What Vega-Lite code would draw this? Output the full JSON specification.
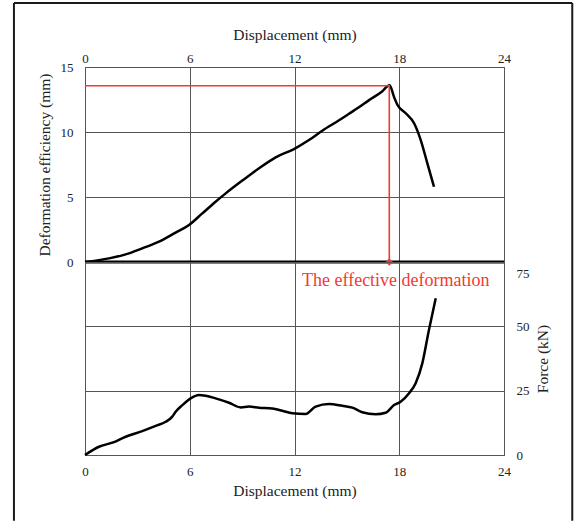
{
  "$schema": "https://vega.github.io/schema/vega-lite/v6.json",
  "padding": {"left": 12, "top": 1, "right": 0, "bottom": 0},
  "background": "white",
  "spacing": 0,
  "bounds": "flush",
  "datasets": {
    "def": [
      {"d": 0, "e": 0}, {"d": 1.37, "e": 0.28}, {"d": 2.33, "e": 0.59}, {"d": 3.28, "e": 1.05},
      {"d": 4.24, "e": 1.56}, {"d": 5.19, "e": 2.26}, {"d": 5.96, "e": 2.85}, {"d": 6.72, "e": 3.74},
      {"d": 7.48, "e": 4.64}, {"d": 8.06, "e": 5.28}, {"d": 9.01, "e": 6.26}, {"d": 9.97, "e": 7.21},
      {"d": 10.92, "e": 8.05}, {"d": 11.97, "e": 8.69}, {"d": 12.83, "e": 9.38}, {"d": 13.59, "e": 10.1},
      {"d": 14.55, "e": 10.9}, {"d": 15.12, "e": 11.4}, {"d": 15.69, "e": 11.9}, {"d": 16.27, "e": 12.45},
      {"d": 17.0, "e": 13.1}, {"d": 17.45, "e": 13.6}, {"d": 17.7, "e": 12.7}, {"d": 17.9, "e": 12.08},
      {"d": 18.37, "e": 11.44}, {"d": 18.85, "e": 10.67}, {"d": 19.23, "e": 9.38}, {"d": 19.61, "e": 7.59},
      {"d": 19.99, "e": 5.79}
    ],
    "red": [
      {"i": 1, "d": 0, "e": 13.56}, {"i": 2, "d": 17.43, "e": 13.56}, {"i": 3, "d": 17.43, "e": 0}
    ],
    "marker": [{"d": 17.43, "e": 0}],
    "force": [
      {"d": 0, "f": 0}, {"d": 0.8, "f": 3.2}, {"d": 1.57, "f": 4.8}, {"d": 2.33, "f": 7.1},
      {"d": 3.28, "f": 9.3}, {"d": 4.05, "f": 11.3}, {"d": 4.62, "f": 12.9}, {"d": 5.0, "f": 14.9},
      {"d": 5.19, "f": 16.8}, {"d": 5.58, "f": 19.4}, {"d": 6.05, "f": 22.0}, {"d": 6.53, "f": 23.3},
      {"d": 6.91, "f": 23.0}, {"d": 7.48, "f": 22.0}, {"d": 8.25, "f": 20.3}, {"d": 8.92, "f": 18.5},
      {"d": 9.39, "f": 18.8}, {"d": 9.97, "f": 18.4}, {"d": 10.73, "f": 18.1}, {"d": 11.3, "f": 17.2},
      {"d": 11.88, "f": 16.2}, {"d": 12.64, "f": 15.9}, {"d": 13.21, "f": 18.8}, {"d": 13.98, "f": 19.8},
      {"d": 14.74, "f": 19.1}, {"d": 15.31, "f": 18.4}, {"d": 15.88, "f": 16.6}, {"d": 16.65, "f": 15.8},
      {"d": 17.22, "f": 16.4}, {"d": 17.7, "f": 19.4}, {"d": 18.08, "f": 20.7}, {"d": 18.56, "f": 24.0},
      {"d": 18.94, "f": 27.9}, {"d": 19.32, "f": 35.6}, {"d": 19.7, "f": 48.6}, {"d": 20.09, "f": 60.9}
    ],
    "note": [{"label": "The effective deformation", "d": 12.43, "f": 67.6}],
    "frameSides": [
      {"x0": -4.07, "y0": 19.92, "y1": -19.9},
      {"x0": 27.91, "y0": 19.92, "y1": -19.9}
    ],
    "frameTop": [{"x0": -4.07, "x1": 27.91, "y0": 19.92}]
  },
  "vconcat": [
    {
      "width": 419,
      "height": 195,
      "layer": [
        {
          "data": {"name": "def"},
          "mark": {"type": "line", "color": "black", "strokeWidth": 2.5, "interpolate": "monotone"},
          "encoding": {
            "x": {"field": "d", "type": "quantitative", "scale": {"domain": [0, 24], "nice": false, "zero": false}, "axis": {"orient": "top", "values": [0, 6, 12, 18, 24], "title": "Displacement (mm)", "labelPadding": 2, "titlePadding": 10, "grid": true, "labelFlush": false}},
            "y": {"field": "e", "type": "quantitative", "scale": {"domain": [0, 15], "nice": false}, "axis": {"values": [0, 5, 10, 15], "title": "Deformation efficiency (mm)", "labelPadding": 12, "titlePadding": 8, "grid": true, "labelFlush": false}}
          }
        },
        {
          "data": {"name": "red"},
          "mark": {"type": "line", "color": "#f23a32", "strokeWidth": 1.6},
          "encoding": {"x": {"field": "d", "type": "quantitative"}, "y": {"field": "e", "type": "quantitative"}, "order": {"field": "i", "type": "quantitative"}}
        },
        {
          "data": {"name": "marker"},
          "mark": {"type": "rule", "color": "black", "strokeWidth": 3},
          "encoding": {"y": {"field": "e", "type": "quantitative"}}
        },
        {
          "data": {"name": "marker"},
          "mark": {"type": "point", "shape": "diamond", "filled": true, "color": "#f23a32", "size": 55, "opacity": 1},
          "encoding": {"x": {"field": "d", "type": "quantitative"}, "y": {"field": "e", "type": "quantitative"}}
        },
        {
          "data": {"name": "frameSides"},
          "mark": {"type": "rule", "color": "#1a1a1a", "strokeWidth": 2, "clip": false},
          "encoding": {
            "x": {"field": "x0", "type": "quantitative"},
            "y": {"field": "y0", "type": "quantitative"},
            "y2": {"field": "y1"}
          }
        },
        {
          "data": {"name": "frameTop"},
          "mark": {"type": "rule", "color": "#1a1a1a", "strokeWidth": 2, "clip": false},
          "encoding": {
            "x": {"field": "x0", "type": "quantitative"},
            "x2": {"field": "x1"},
            "y": {"field": "y0", "type": "quantitative"}
          }
        }
      ]
    },
    {
      "width": 419,
      "height": 193,
      "encoding": {
        "x": {
          "field": "d", "type": "quantitative",
          "scale": {"domain": [0, 24], "nice": false, "zero": false},
          "axis": {"orient": "bottom", "values": [0, 6, 12, 18, 24], "title": "Displacement (mm)", "labelPadding": 10, "titlePadding": 5, "grid": true, "labelFlush": false}
        },
        "y": {
          "field": "f", "type": "quantitative",
          "scale": {"domain": [0, 75], "nice": false},
          "axis": {
            "orient": "right", "values": [0, 25, 50, 75], "title": "Force (kN)", "titleAngle": 270, "titleBaseline": "top",
            "labelPadding": 12, "titlePadding": 6, "grid": true, "labelFlush": false, "labelAlign": "left",
            "labelBaseline": {"condition": {"test": "datum.value == 75", "value": "top"}, "value": "middle"},
            "labelOffset": {"condition": {"test": "datum.value == 75", "value": 5}, "value": 0}
          }
        }
      },
      "layer": [
        {
          "data": {"name": "force"},
          "mark": {"type": "line", "color": "black", "strokeWidth": 2.5, "interpolate": "monotone"}
        },
        {
          "data": {"name": "note"},
          "mark": {"type": "text", "align": "left", "baseline": "middle", "color": "#f23a32", "font": "Liberation Serif", "fontSize": 18},
          "encoding": {"text": {"field": "label"}}
        }
      ]
    }
  ],
  "config": {
    "font": "Liberation Serif",
    "axis": {
      "labelFont": "Liberation Serif", "labelFontSize": 13, "labelColor": "#222",
      "titleFont": "Liberation Serif", "titleFontSize": 15.5, "titleFontWeight": "normal", "titleColor": "#222",
      "gridColor": "#555", "gridOpacity": 1, "gridWidth": 1, "domain": false, "ticks": false
    },
    "view": {"stroke": "#555", "strokeWidth": 1}
  }
}
